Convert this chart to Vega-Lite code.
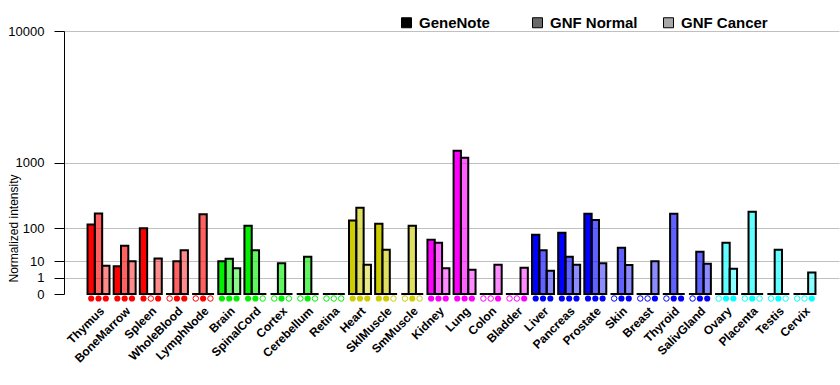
{
  "$schema": "https://vega.github.io/schema/vega-lite/v6.json",
  "width": 775,
  "height": 263,
  "autosize": "none",
  "padding": {"left": 64, "top": 31, "right": 1, "bottom": 91},
  "background": "white",
  "config": {"font": "Liberation Sans", "view": {"stroke": null}},
  "data": {"values": [
    {"t":"Thymus","g":"blood","s":"GeneNote","v":120,"m":1},{"t":"Thymus","g":"blood","s":"GNF Normal","v":195,"m":1},{"t":"Thymus","g":"blood","s":"GNF Cancer","v":6.1,"m":1},
    {"t":"BoneMarrow","g":"blood","s":"GeneNote","v":5.7,"m":1},{"t":"BoneMarrow","g":"blood","s":"GNF Normal","v":36,"m":1},{"t":"BoneMarrow","g":"blood","s":"GNF Cancer","v":9.8,"m":1},
    {"t":"Spleen","g":"blood","s":"GeneNote","v":100,"m":1},{"t":"Spleen","g":"blood","s":"GNF Normal","v":0,"m":0},{"t":"Spleen","g":"blood","s":"GNF Cancer","v":13,"m":1},
    {"t":"WholeBlood","g":"blood","s":"GeneNote","v":0,"m":0},{"t":"WholeBlood","g":"blood","s":"GNF Normal","v":9.8,"m":1},{"t":"WholeBlood","g":"blood","s":"GNF Cancer","v":26,"m":1},
    {"t":"LymphNode","g":"blood","s":"GeneNote","v":0,"m":0},{"t":"LymphNode","g":"blood","s":"GNF Normal","v":189,"m":1},{"t":"LymphNode","g":"blood","s":"GNF Cancer","v":0,"m":0},
    {"t":"Brain","g":"neuro","s":"GeneNote","v":9.8,"m":1},{"t":"Brain","g":"neuro","s":"GNF Normal","v":12.7,"m":1},{"t":"Brain","g":"neuro","s":"GNF Cancer","v":4.4,"m":1},
    {"t":"SpinalCord","g":"neuro","s":"GeneNote","v":113,"m":1},{"t":"SpinalCord","g":"neuro","s":"GNF Normal","v":26,"m":1},{"t":"SpinalCord","g":"neuro","s":"GNF Cancer","v":0,"m":0},
    {"t":"Cortex","g":"neuro","s":"GeneNote","v":0,"m":0},{"t":"Cortex","g":"neuro","s":"GNF Normal","v":8,"m":1},{"t":"Cortex","g":"neuro","s":"GNF Cancer","v":0,"m":0},
    {"t":"Cerebellum","g":"neuro","s":"GeneNote","v":0,"m":0},{"t":"Cerebellum","g":"neuro","s":"GNF Normal","v":15,"m":1},{"t":"Cerebellum","g":"neuro","s":"GNF Cancer","v":0,"m":0},
    {"t":"Retina","g":"neuro","s":"GeneNote","v":0,"m":0},{"t":"Retina","g":"neuro","s":"GNF Normal","v":0,"m":0},{"t":"Retina","g":"neuro","s":"GNF Cancer","v":0,"m":0},
    {"t":"Heart","g":"muscle","s":"GeneNote","v":144,"m":1},{"t":"Heart","g":"muscle","s":"GNF Normal","v":246,"m":1},{"t":"Heart","g":"muscle","s":"GNF Cancer","v":6.8,"m":1},
    {"t":"SklMuscle","g":"muscle","s":"GeneNote","v":125,"m":1},{"t":"SklMuscle","g":"muscle","s":"GNF Normal","v":27,"m":1},{"t":"SklMuscle","g":"muscle","s":"GNF Cancer","v":0,"m":0},
    {"t":"SmMuscle","g":"muscle","s":"GeneNote","v":0,"m":0},{"t":"SmMuscle","g":"muscle","s":"GNF Normal","v":113,"m":1},{"t":"SmMuscle","g":"muscle","s":"GNF Cancer","v":0,"m":0},
    {"t":"Kidney","g":"epith","s":"GeneNote","v":53,"m":1},{"t":"Kidney","g":"epith","s":"GNF Normal","v":44,"m":1},{"t":"Kidney","g":"epith","s":"GNF Cancer","v":4.4,"m":1},
    {"t":"Lung","g":"epith","s":"GeneNote","v":1330,"m":1},{"t":"Lung","g":"epith","s":"GNF Normal","v":1126,"m":1},{"t":"Lung","g":"epith","s":"GNF Cancer","v":3.7,"m":1},
    {"t":"Colon","g":"epith","s":"GeneNote","v":0,"m":0},{"t":"Colon","g":"epith","s":"GNF Normal","v":0,"m":0},{"t":"Colon","g":"epith","s":"GNF Cancer","v":6.8,"m":1},
    {"t":"Bladder","g":"epith","s":"GeneNote","v":0,"m":0},{"t":"Bladder","g":"epith","s":"GNF Normal","v":0,"m":0},{"t":"Bladder","g":"epith","s":"GNF Cancer","v":4.8,"m":1},
    {"t":"Liver","g":"gland","s":"GeneNote","v":71,"m":1},{"t":"Liver","g":"gland","s":"GNF Normal","v":26,"m":1},{"t":"Liver","g":"gland","s":"GNF Cancer","v":3.2,"m":1},
    {"t":"Pancreas","g":"gland","s":"GeneNote","v":79,"m":1},{"t":"Pancreas","g":"gland","s":"GNF Normal","v":15,"m":1},{"t":"Pancreas","g":"gland","s":"GNF Cancer","v":6.8,"m":1},
    {"t":"Prostate","g":"gland","s":"GeneNote","v":194,"m":1},{"t":"Prostate","g":"gland","s":"GNF Normal","v":148,"m":1},{"t":"Prostate","g":"gland","s":"GNF Cancer","v":8,"m":1},
    {"t":"Skin","g":"gland","s":"GeneNote","v":0,"m":0},{"t":"Skin","g":"gland","s":"GNF Normal","v":31,"m":1},{"t":"Skin","g":"gland","s":"GNF Cancer","v":6.6,"m":1},
    {"t":"Breast","g":"gland","s":"GeneNote","v":0,"m":0},{"t":"Breast","g":"gland","s":"GNF Normal","v":0,"m":0},{"t":"Breast","g":"gland","s":"GNF Cancer","v":9.8,"m":1},
    {"t":"Thyroid","g":"gland","s":"GeneNote","v":0,"m":0},{"t":"Thyroid","g":"gland","s":"GNF Normal","v":194,"m":1},{"t":"Thyroid","g":"gland","s":"GNF Cancer","v":0,"m":1},
    {"t":"SalivGland","g":"gland","s":"GeneNote","v":0,"m":0},{"t":"SalivGland","g":"gland","s":"GNF Normal","v":23,"m":1},{"t":"SalivGland","g":"gland","s":"GNF Cancer","v":7.6,"m":1},
    {"t":"Ovary","g":"repro","s":"GeneNote","v":0,"m":0},{"t":"Ovary","g":"repro","s":"GNF Normal","v":44,"m":1},{"t":"Ovary","g":"repro","s":"GNF Cancer","v":4.2,"m":1},
    {"t":"Placenta","g":"repro","s":"GeneNote","v":0,"m":0},{"t":"Placenta","g":"repro","s":"GNF Normal","v":211,"m":1},{"t":"Placenta","g":"repro","s":"GNF Cancer","v":0,"m":0},
    {"t":"Testis","g":"repro","s":"GeneNote","v":0,"m":0},{"t":"Testis","g":"repro","s":"GNF Normal","v":27,"m":1},{"t":"Testis","g":"repro","s":"GNF Cancer","v":0,"m":0},
    {"t":"Cervix","g":"repro","s":"GeneNote","v":0,"m":0},{"t":"Cervix","g":"repro","s":"GNF Normal","v":0,"m":0},{"t":"Cervix","g":"repro","s":"GNF Cancer","v":2.4,"m":1}
  ]},
  "encoding": {
    "x": {
      "field": "t", "type": "nominal",
      "scale": {"domain": ["Thymus","BoneMarrow","Spleen","WholeBlood","LymphNode","Brain","SpinalCord","Cortex","Cerebellum","Retina","Heart","SklMuscle","SmMuscle","Kidney","Lung","Colon","Bladder","Liver","Pancreas","Prostate","Skin","Breast","Thyroid","SalivGland","Ovary","Placenta","Testis","Cervix"], "paddingInner": 0.16, "paddingOuter": 0.9},
      "axis": {"title": null, "labelAngle": -45, "labelFontWeight": "bold", "labelFontSize": 12, "labelColor": "black", "domain": false, "ticks": false, "labelPadding": 11, "labelLimit": 0}
    },
    "xOffset": {"field": "s", "type": "nominal", "scale": {"domain": ["GeneNote","GNF Normal","GNF Cancer"], "paddingInner": 0, "paddingOuter": 0}}
  },
  "layer": [
    {
      "mark": {"type": "bar", "stroke": "black", "strokeWidth": 2, "opacity": 1},
      "encoding": {
        "y": {
          "field": "v", "type": "quantitative",
          "scale": {"type": "pow", "exponent": 0.30103, "domain": [0, 10000], "nice": false},
          "axis": {
            "title": "Normalized intensity", "values": [0, 1, 10, 100, 1000, 10000], "format": "d",
            "grid": true, "gridColor": {"condition": {"test": "datum.value == 0", "value": "transparent"}, "value": "#c0c0c0"},
            "tickSize": 10, "tickColor": "black", "domainColor": "black", "labelFontSize": 13, "labelColor": "black",
            "labelPadding": 10, "labelOverlap": false, "titleFontSize": 12, "titleFontWeight": "normal", "titleColor": "black",
            "titleX": -47, "titleY": 197, "titleAngle": -90, "titleBaseline": "alphabetic", "titleAlign": "center"
          }
        },
        "fill": {"field": "g", "type": "nominal", "scale": {"domain": ["blood","neuro","muscle","epith","gland","repro"], "range": ["#ff0000","#00f000","#cccc00","#ff00ff","#0000ff","#00ffff"]}, "legend": null},
        "fillOpacity": {"field": "s", "type": "nominal", "scale": {"type": "ordinal", "domain": ["GeneNote","GNF Normal","GNF Cancer"], "range": [1, 0.62, 0.45]}, "legend": null}
      }
    },
    {
      "transform": [{"filter": "datum.m == 1"}],
      "mark": {"type": "point", "shape": "circle", "filled": true, "size": 38, "yOffset": 4.5, "opacity": 1},
      "encoding": {
        "y": {"datum": 0, "type": "quantitative"},
        "fill": {"field": "g", "type": "nominal", "legend": null}
      }
    },
    {
      "transform": [{"filter": "datum.m == 0"}],
      "mark": {"type": "point", "shape": "circle", "filled": false, "fill": "white", "size": 30, "strokeWidth": 1, "yOffset": 4.5, "opacity": 1},
      "encoding": {
        "y": {"datum": 0, "type": "quantitative"},
        "stroke": {"field": "g", "type": "nominal", "scale": {"domain": ["blood","neuro","muscle","epith","gland","repro"], "range": ["#ff0000","#00f000","#cccc00","#ff00ff","#0000ff","#00ffff"]}, "legend": null}
      }
    },
    {
      "transform": [{"filter": "datum.v < 0"}],
      "mark": {"type": "square", "filled": true, "opacity": 1},
      "encoding": {
        "y": {"datum": 0, "type": "quantitative"},
        "color": {
          "field": "s", "type": "nominal",
          "scale": {"domain": ["GeneNote","GNF Normal","GNF Cancer"], "range": ["#000000","#6a6a6a","#a8a8a8"]},
          "legend": {
            "title": null, "orient": "none", "legendX": 335, "legendY": -16, "direction": "horizontal", "columns": 3,
            "gridAlign": "all", "columnPadding": 23, "symbolType": "square", "symbolSize": 100, "symbolStrokeColor": "black",
            "symbolOpacity": 1, "symbolStrokeWidth": 1, "labelFontSize": 15, "labelFontWeight": "bold", "labelColor": "black", "labelOffset": 5, "padding": 0
          }
        }
      }
    }
  ]
}
